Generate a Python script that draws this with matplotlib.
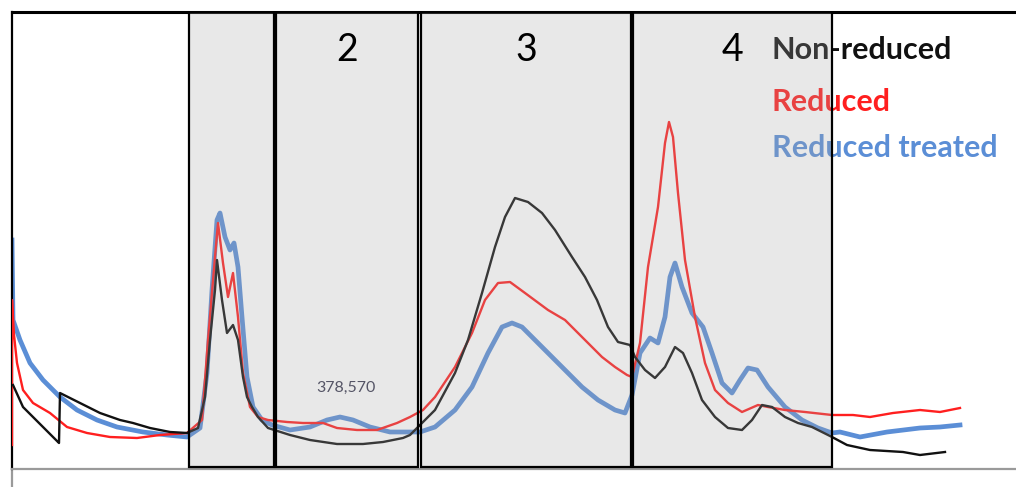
#!/usr/bin/env python3
import matplotlib
matplotlib.use("Agg")
import matplotlib.pyplot as plt
from matplotlib.patches import Rectangle

# elution position (arbitrary units) and detector signal
black_x = [13, 23, 43, 58, 59, 60, 80, 100, 120, 133, 150, 170, 187,
           198, 205, 210, 215, 217, 222, 227, 233, 238, 243, 247, 252, 258, 268,
           290, 310, 337, 363, 383, 403, 410,
           420, 435, 455, 468, 482, 495, 505, 515, 528, 542, 555, 572, 585, 597,
           608, 618, 630,
           635, 645, 655, 665, 675, 683, 692, 702, 715, 728, 742, 752, 762, 772,
           785, 798, 812, 832,
           847, 870, 903, 920, 945]
black_y = [84, 62, 42, 27, 26, 76, 66, 56, 49, 46, 41, 37, 36,
           41, 72, 129, 179, 209, 169, 136, 144, 129, 92, 72, 62, 52, 41,
           34, 29, 25, 25, 27, 31, 34,
           44, 59, 96, 129, 176, 222, 252, 271, 267, 256, 239, 212, 192, 169,
           142, 127, 124,
           112, 99, 91, 102, 122, 116, 96, 69, 52, 41, 39, 49, 64, 62,
           52, 46, 42, 32,
           24, 19, 17, 14, 17]

red_x = [12, 12, 14, 17, 23, 33, 50, 67, 87, 110,
         137, 160, 187, 202, 208, 215, 218, 223, 228, 233,
         238, 243, 250, 258, 268, 287, 303, 323, 337, 357,
         377, 397, 410, 423, 435, 455, 472, 485, 498, 510,
         525, 548, 565, 582, 602, 615, 627, 632, 640, 648,
         658, 665, 669, 673, 678, 685, 695, 705, 715, 728,
         742, 758, 768, 785, 805, 832, 853, 870, 893, 920,
         940, 960]
red_y = [24, 169, 134, 106, 79, 66, 56, 42, 36, 32,
         31, 34, 36, 49, 129, 212, 246, 206, 172, 196,
         152, 96, 62, 52, 49, 47, 46, 46, 41, 39,
         39, 46, 52, 59, 72, 102, 136, 169, 186, 187,
         176, 159, 149, 132, 112, 102, 94, 92, 126, 202,
         262, 326, 347, 332, 276, 209, 152, 106, 79, 66,
         57, 64, 62, 59, 57, 54, 54, 52, 56, 59,
         57, 61]

blue_x = [12, 13, 20, 30, 43, 60, 77, 97, 117, 143,
          167, 187, 200, 207, 212, 217, 220, 225, 230, 234,
          238, 242, 247, 253, 262, 272, 290, 310, 327, 340,
          353, 370, 390, 410, 420, 435, 455, 472, 488, 502,
          512, 522, 542, 562, 582, 598, 615, 625, 632, 640,
          650, 658, 665, 670, 675, 682, 692, 703, 712, 722,
          732, 740, 748, 757, 768, 785, 802, 818, 832, 840,
          860, 887, 920, 940, 960]
blue_y = [229, 149, 129, 106, 89, 72, 59, 49, 42, 37,
          34, 32, 41, 96, 179, 249, 256, 232, 219, 226,
          202, 152, 92, 62, 49, 44, 39, 42, 49, 52,
          49, 42, 37, 37, 37, 42, 59, 82, 116, 142,
          146, 142, 122, 102, 82, 69, 59, 56, 74, 116,
          131, 126, 152, 192, 206, 182, 156, 142, 116, 86,
          76, 89, 101, 99, 82, 62, 49, 41, 36, 37,
          32, 37, 41, 42, 44]

# fraction windows and their labels
regions = [(189, 274), (276, 418), (421, 631), (633, 832)]
region_labels = ["", "2", "3", "4"]

series_names = ["Non-reduced", "Reduced", "Reduced treated"]
series_colors = ["#111111", "#ff1f1f", "#5b8ed6"]

fig = plt.figure(figsize=(10.16, 4.87), dpi=100)
ax = fig.add_axes([12 / 1016, 18 / 487, 1004 / 1016, 457 / 487])
ax.set_xlim(12, 1016)
ax.set_ylim(0, 457)

ax.plot(blue_x, blue_y, color=series_colors[2], lw=3.4, zorder=2)
ax.plot(red_x, red_y, color=series_colors[1], lw=1.7, zorder=3)
ax.plot(black_x, black_y, color=series_colors[0], lw=1.7, zorder=4)

# legend as plain coloured text
leg_y = [419, 367, 321]
for name, col, yy in zip(series_names, series_colors, leg_y):
    ax.text(772, yy, name, color=col, fontsize=22, fontweight="bold",
            family=["Lato", "DejaVu Sans"], va="center", ha="left", zorder=5)

# translucent shaded windows on top
for (x0, x1), lab in zip(regions, region_labels):
    ax.add_patch(Rectangle((x0, 2), x1 - x0, 455, facecolor="#a8a8a8",
                           alpha=0.26, edgecolor="none", zorder=6))
    ax.add_patch(Rectangle((x0, 2), x1 - x0, 455, facecolor="none",
                           edgecolor="black", lw=1.6, zorder=7))
    if lab:
        ax.text((x0 + x1) / 2, 419, lab, fontsize=27, ha="center",
                va="center", family=["Lato", "DejaVu Sans"], zorder=8)

ax.text(346, 81, "378,570", fontsize=11.5, color="#555566", ha="center",
        va="center", family=["Lato", "DejaVu Sans"], zorder=8)

ax.set_xticks([])
ax.set_yticks([])
ax.spines["right"].set_visible(False)
ax.spines["top"].set_linewidth(2.2)
ax.spines["left"].set_linewidth(1.6)
ax.spines["bottom"].set_color("#9a9a9a")
ax.spines["bottom"].set_linewidth(1.6)
ax.plot([12, 12], [0, -18], color="#9a9a9a", lw=1.6, clip_on=False)

fig.savefig("out.png", dpi=100)
